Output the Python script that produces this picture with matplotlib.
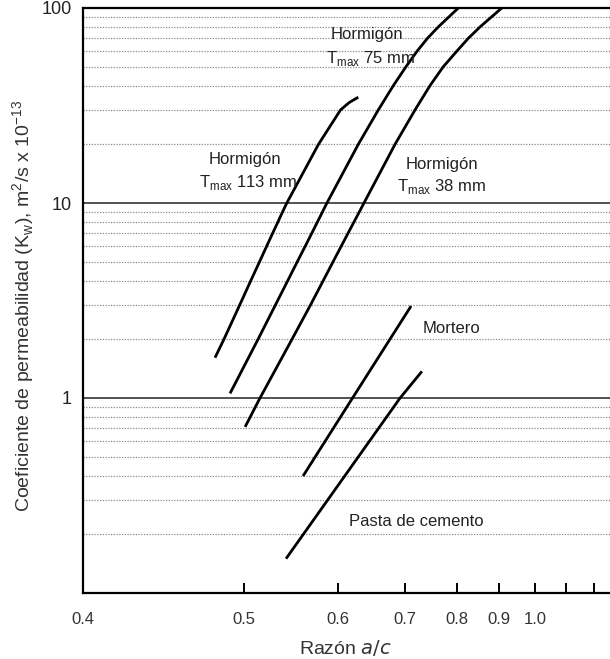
import numpy as np
import matplotlib
matplotlib.use("Agg")
import matplotlib.pyplot as plt

plt.rcParams['font.family'] = ['Liberation Sans', 'DejaVu Sans']

# Hormigon, T max 113 mm
ac_113 = [0.4765, 0.4834, 0.4963, 0.5059, 0.5138, 0.5204, 0.5262, 0.5314, 0.5360, 0.5404,
          0.5755, 0.6029, 0.6142, 0.6270]
k_113 = [1.61, 2, 3, 4, 5, 6, 7, 8, 9, 10, 20, 30, 32.7, 34.9]

# Hormigon, T max 75 mm
ac_75 = [0.4883, 0.5124, 0.5289, 0.5414, 0.5515, 0.5602, 0.5677, 0.5857, 0.6270, 0.6564,
         0.6802, 0.7015, 0.7210, 0.7405, 0.7614, 0.8029]
k_75 = [1.056, 2, 3, 4, 5, 6, 7, 10, 20, 30, 40, 50, 60, 70, 80, 100]

# Hormigon, T max 38 mm
ac_38 = [0.5009, 0.5142, 0.5458, 0.5662, 0.5812, 0.5934, 0.6038, 0.6129, 0.6351, 0.6830,
         0.7174, 0.7452, 0.7714, 0.7995, 0.8252, 0.8522, 0.9063]
k_38 = [0.711, 1, 2, 3, 4, 5, 6, 7, 10, 20, 30, 40, 50, 60, 70, 80, 100]

# Mortero
ac_mortero = [0.5578, 0.6190, 0.7103]
k_mortero = [0.398, 1.0, 2.96]

# Pasta de cemento
ac_pasta = [0.5396, 0.6914, 0.7300]
k_pasta = [0.15, 1.0, 1.37]

x_ticks = [0.4, 0.5, 0.6, 0.7, 0.8, 0.9, 1.0, 1.1, 1.2]
x_labels = ['0.4', '0.5', '0.6', '0.7', '0.8', '0.9', '1.0', '', '']
y_ticks = [1, 10, 100]
y_labels = ['1', '10', '100']
solid_lines = [1, 10]
dotted_lines = [0.2, 0.3, 0.4, 0.5, 0.6, 0.7, 0.8, 0.9,
                2, 3, 4, 5, 6, 7, 8, 9,
                20, 30, 40, 50, 60, 70, 80, 90]


def fwd(x):
    # the a/c axis of the original chart is logarithmic in (a/c - 0.3)
    return np.log10(np.clip(np.asarray(x, dtype=float) - 0.3, 1e-9, None))


def inv(y):
    return 10 ** np.asarray(y, dtype=float) + 0.3


fig = plt.figure(figsize=(6.1, 6.59), dpi=100)
ax = fig.add_axes([83 / 610, 1 - 593 / 659, 527 / 610, 585 / 659])

ax.set_xscale('function', functions=(fwd, inv))
ax.set_yscale('log')
ax.set_xlim(0.4, 1.266)
ax.set_ylim(0.1, 100)

for v in dotted_lines:
    ax.axhline(v, color='#8a8a8a', lw=0.9, linestyle=(0, (1, 1.2)), zorder=1)
for v in solid_lines:
    ax.axhline(v, color='#333333', lw=1.2, zorder=1)

lw = 2.0
for xs, ys in [(ac_113, k_113), (ac_75, k_75), (ac_38, k_38),
               (ac_mortero, k_mortero), (ac_pasta, k_pasta)]:
    ax.plot(xs, ys, color='black', lw=lw, zorder=3,
            solid_joinstyle='round', solid_capstyle='butt')

fs = 12
tc = '#222222'
tmax = r'T$_{\mathregular{max}}$'
ax.text(0.501, 16.8, 'Hormigón', fontsize=fs, ha='center', va='center', color=tc)
ax.text(0.5034, 12.8, tmax + ' 113 mm', fontsize=fs, ha='center', va='center', color=tc)
ax.text(0.6395, 73, 'Hormigón', fontsize=fs, ha='center', va='center', color=tc)
ax.text(0.6454, 55.2, tmax + ' 75 mm', fontsize=fs, ha='center', va='center', color=tc)
ax.text(0.7688, 15.8, 'Hormigón', fontsize=fs, ha='center', va='center', color=tc)
ax.text(0.7688, 12.1, tmax + ' 38 mm', fontsize=fs, ha='center', va='center', color=tc)
ax.text(0.7894, 2.26, 'Mortero', fontsize=fs, ha='center', va='center', color=tc)
ax.text(0.7193, 0.233, 'Pasta de cemento', fontsize=fs, ha='center', va='center', color=tc)

ax.set_xticks(x_ticks)
ax.set_xticklabels(x_labels, fontsize=12, color='#333333')
ax.xaxis.set_minor_locator(matplotlib.ticker.NullLocator())
ax.tick_params(axis='x', direction='in', length=7, width=1.4, pad=14)

ax.set_yticks(y_ticks)
ax.set_yticklabels(y_labels, fontsize=13, color='#222222')
ax.yaxis.set_minor_locator(matplotlib.ticker.NullLocator())
ax.tick_params(axis='y', length=0, pad=8)

for side in ['left', 'bottom', 'top']:
    ax.spines[side].set_linewidth(1.6)
ax.spines['right'].set_visible(False)

ax.set_ylabel(r'Coeficiente de permeabilidad (K$_{\mathregular{w}}$), m$^{\mathregular{2}}$/s x 10$^{\mathregular{-13}}$',
              fontsize=14, color='#333333')
ax.yaxis.set_label_coords(-0.087, 0.49)
ax.set_xlabel(r'Razón $\mathit{a/c}$', fontsize=14, color='#333333')
ax.xaxis.set_label_coords(0.497, -0.077)

fig.savefig('out.png', dpi=100)
